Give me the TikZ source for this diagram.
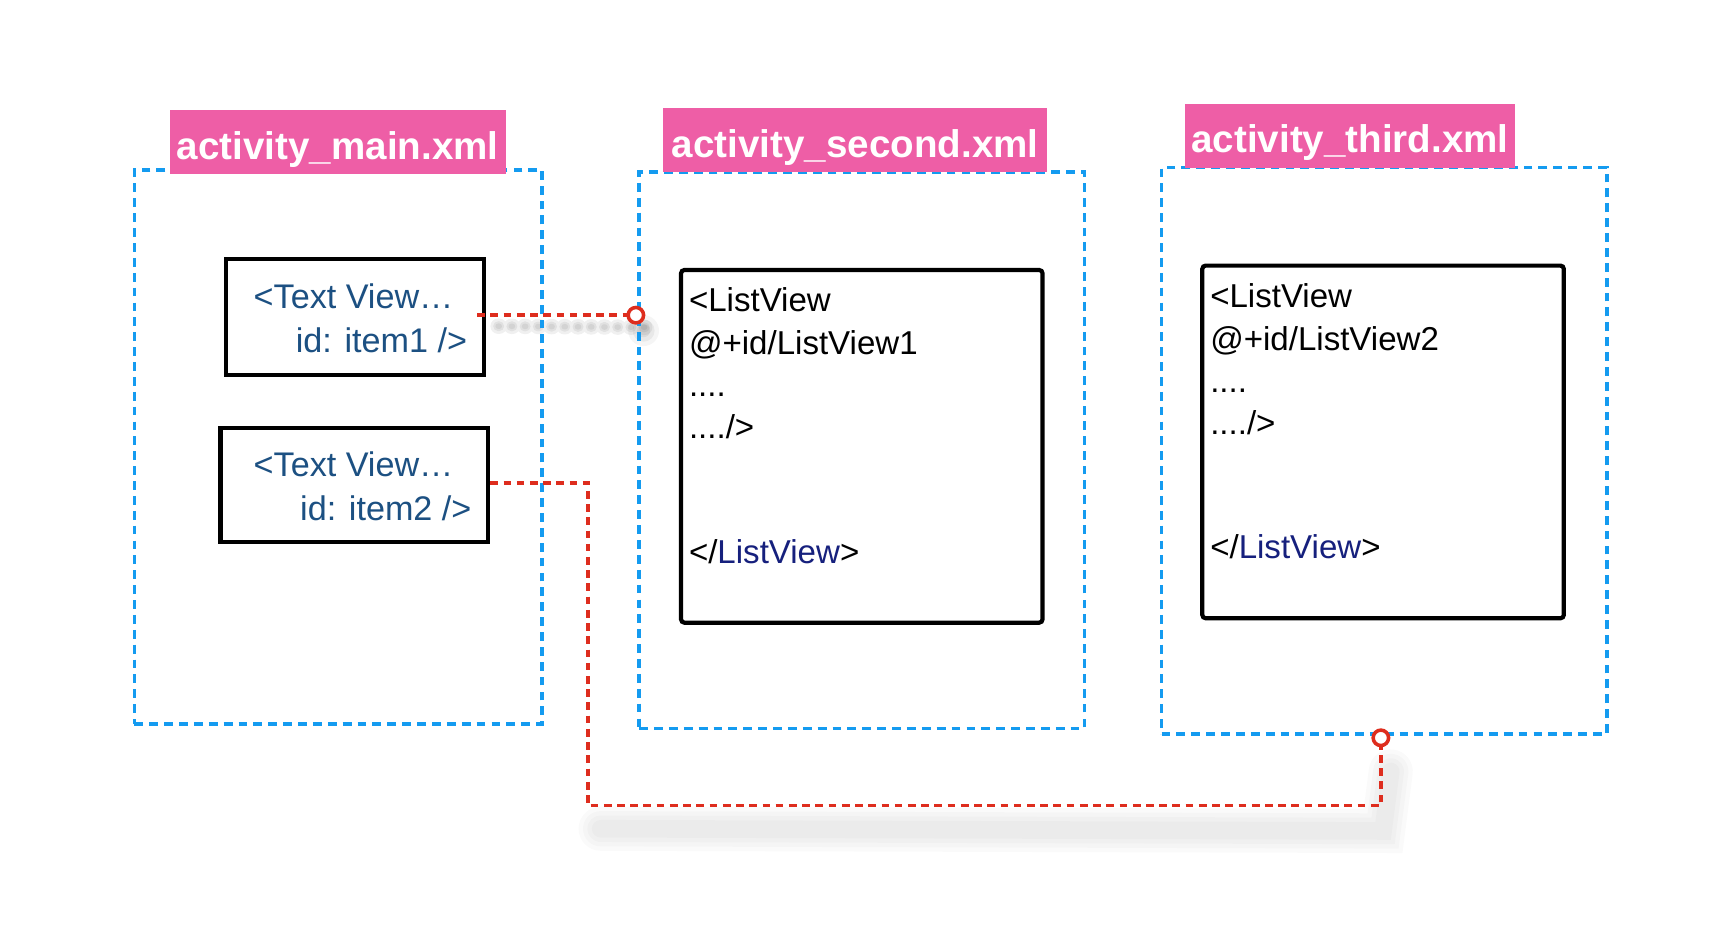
\documentclass[tikz,border=0pt]{standalone}
\usepackage{fontspec}
\setmainfont{Liberation Sans}
\definecolor{pinkbg}{RGB}{238,94,166}
\definecolor{dashblue}{RGB}{20,155,240}
\definecolor{conred}{RGB}{222,45,30}
\definecolor{tvblue}{RGB}{28,80,130}
\definecolor{navy}{RGB}{22,32,125}
\tikzset{
  titlebox/.style={fill=pinkbg, text=white, inner sep=0pt, text height=31pt, text depth=0pt, font=\fontsize{35}{40}\selectfont\bfseries},
  filebox/.style={draw=dashblue, line width=3.4pt, dash pattern=on 8pt off 5.5pt, inner sep=0pt},
  sketchbox/.style={draw=black, line width=3.8pt, inner sep=0pt, fill=white},
  tvtext/.style={text=tvblue, inner sep=0pt, font=\fontsize{31}{36}\selectfont},
  lvtext/.style={text=black, inner sep=0pt, anchor=base west, font=\fontsize{30}{36}\selectfont},
  conn/.style={draw=conred, line width=3.4pt, dash pattern=on 7pt off 5pt},
  ring/.style={circle, draw=conred, line width=3.2pt, fill=white, minimum size=14pt, inner sep=0pt},
  shadowline/.style={draw=black, line cap=round}
}
\begin{document}
\begin{tikzpicture}[x={(1pt,0)}, y={(0,-1pt)}]
\useasboundingbox (0,0) rectangle (1568,851);
\fill[white] (0,0) rectangle (1568,851);

% soft shadows
\foreach \w in {40,32,24,16}{
  \draw[shadowline, line width=\w pt, opacity=0.018] (545,752) -- (1255,754) -- (1262,700);
}
\foreach \w in {14,9,5}{
  \draw[shadowline, line width=\w pt, opacity=0.06, dash pattern=on 1pt off 11pt] (452,296) -- (585,297);
}
\foreach \r/\o in {14/0.04,10/0.05,6/0.06}{
  \fill[black, opacity=\o] (584,300) circle (\r pt);
}

% dashed file boxes
\node[filebox, minimum width=370pt, minimum height=503pt] (f1) at (307,405.5) {};
\node[filebox, minimum width=404pt, minimum height=505pt] (f2) at (782,408.5) {};
\node[filebox, minimum width=404pt, minimum height=514pt] (f3) at (1256,409) {};

% titles
\node[titlebox, minimum width=305pt, minimum height=58pt] (t1) at (306.5,129) {activity\_main.xml};
\node[titlebox, minimum width=348pt, minimum height=58pt] (t2) at (776,127) {activity\_second.xml};
\node[titlebox, minimum width=300pt, minimum height=58pt] (t3) at (1225,123) {activity\_third.xml};

% text view boxes
\node[sketchbox, minimum width=234pt, minimum height=105pt] (tv1) at (322,287.5) {};
\node[tvtext, anchor=base west] (tv1a) at (230,280) {<Text View…};
\node[tvtext, anchor=base east] (tv1b) at (424,320) {id: item1 />};

\node[sketchbox, minimum width=243pt, minimum height=104pt] (tv2) at (321.5,440) {};
\node[tvtext, anchor=base west] (tv2a) at (230,432) {<Text View…};
\node[tvtext, anchor=base east] (tv2b) at (428,472) {id: item2 />};

% list view boxes
\node[sketchbox, rounded corners=3pt, minimum width=328pt, minimum height=320pt] (lv1) at (782,405) {};
\node[lvtext] (lv1a) at (625,283) {<ListView};
\node[lvtext] (lv1b) at (625,322) {@+id/ListView1};
\node[lvtext] (lv1c) at (625,360) {....};
\node[lvtext] (lv1d) at (625,398) {..../>};
\node[lvtext] (lv1e) at (625,511) {</\textcolor{navy}{ListView}>};

\node[sketchbox, rounded corners=3pt, minimum width=328pt, minimum height=320pt] (lv2) at (1255,401) {};
\node[lvtext] (lv2a) at (1098,279) {<ListView};
\node[lvtext] (lv2b) at (1098,318) {@+id/ListView2};
\node[lvtext] (lv2c) at (1098,356) {....};
\node[lvtext] (lv2d) at (1098,394) {..../>};
\node[lvtext] (lv2e) at (1098,507) {</\textcolor{navy}{ListView}>};

% connectors
\coordinate (c1) at (577,286);
\coordinate (c2) at (1253,669.5);
\coordinate (k1) at (533.5,438);
\coordinate (k2) at (533.5,731);
\draw[conn] (433,286) -- (c1);
\draw[conn] (tv2.east |- k1) -- (k1) -- (k2) -- (c2 |- k2) -- (c2);
\node[ring] (r1) at (c1) {};
\node[ring] (r2) at (c2) {};
\end{tikzpicture}
\end{document}
